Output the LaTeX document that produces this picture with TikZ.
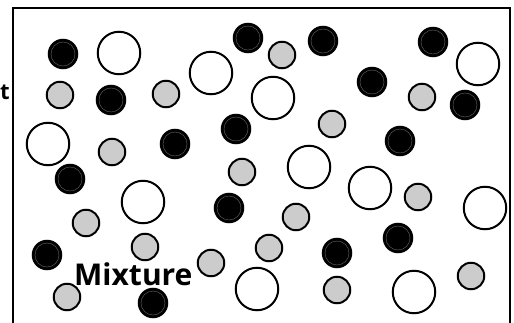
\documentclass[tikz,border=0pt]{standalone}
\usepackage{fontspec}
\setmainfont{Open Sans}
\begin{document}
\begin{tikzpicture}[x=1pt,y=-1pt,
  blk/.style={circle,fill=black,draw=black,line width=2pt,minimum size=28.5pt,inner sep=0pt,
    path picture={\draw[black!55,line width=0.35pt] (path picture bounding box.center) circle (12pt);}},
  gry/.style={circle,fill=black!20,draw=black,line width=2pt,minimum size=26.5pt,inner sep=0pt},
  wht/.style={circle,fill=white,draw=black,line width=2pt,minimum size=42.5pt,inner sep=0pt},
  lbl/.style={inner sep=0pt,font=\bfseries}]
\clip (0,0) rectangle (514,323);
\fill[white] (0,0) rectangle (514,323);
\draw[line width=2pt] (13,340) coordinate (rbl) -- (13,8) coordinate (rtl) -- (510,8) coordinate (rtr) -- (510,340) coordinate (rbr);
% white circles
\node[wht] (w1) at (119,53) {};
\node[wht] (w2) at (211,73) {};
\node[wht] (w3) at (478,64) {};
\node[wht] (w4) at (273,98) {};
\node[wht] (w5) at (48,144) {};
\node[wht] (w6) at (309,167) {};
\node[wht] (w7) at (370,188) {};
\node[wht] (w8) at (485,208) {};
\node[wht] (w9) at (143,202) {};
\node[wht] (w10) at (257,289) {};
\node[wht] (w11) at (414,292) {};
% grey circles
\node[gry] (g1) at (282,55) {};
\node[gry] (g2) at (60,95) {};
\node[gry] (g3) at (166,94) {};
\node[gry] (g4) at (422,97) {};
\node[gry] (g5) at (112,152) {};
\node[gry] (g6) at (332,124) {};
\node[gry] (g7) at (242,172) {};
\node[gry] (g8) at (418,197) {};
\node[gry] (g9) at (86,223) {};
\node[gry] (g10) at (296,217) {};
\node[gry] (g11) at (145,247) {};
\node[gry] (g12) at (269,248) {};
\node[gry] (g13) at (211,263) {};
\node[gry] (g14) at (67,297) {};
\node[gry] (g15) at (337,290) {};
\node[gry] (g16) at (471,276) {};
% black circles
\node[blk] (b1) at (63,54) {};
\node[blk] (b2) at (111,100) {};
\node[blk] (b3) at (248,38) {};
\node[blk] (b4) at (323,41) {};
\node[blk] (b5) at (433,42) {};
\node[blk] (b6) at (372,82) {};
\node[blk] (b7) at (465,105) {};
\node[blk] (b8) at (175,144) {};
\node[blk] (b9) at (236,129) {};
\node[blk] (b10) at (400,141) {};
\node[blk] (b11) at (70,179) {};
\node[blk] (b12) at (229,208) {};
\node[blk] (b13) at (398,238) {};
\node[blk] (b14) at (47,255) {};
\node[blk] (b15) at (337,253) {};
\node[blk] (b16) at (153,303) {};
% labels
\node[lbl,anchor=base west,font=\bfseries\fontsize{30}{36}\selectfont] (mix) at (74,285) {Mixture};
\node[lbl,anchor=base east,font=\bfseries\fontsize{22}{26}\selectfont] (tt) at (10,100) {t};
\end{tikzpicture}
\end{document}
